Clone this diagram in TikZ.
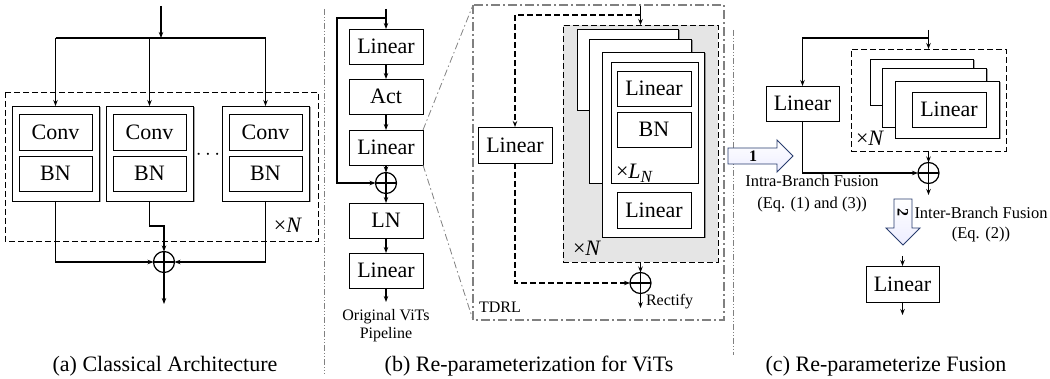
\documentclass[tikz,border=0pt]{standalone}
\usepackage{fontspec}
\setmainfont{Liberation Serif}
\usetikzlibrary{arrows.meta,shadows,calc}
\definecolor{arrblue}{RGB}{40,60,110}
\definecolor{lgray}{RGB}{229,229,229}
\definecolor{sepgray}{RGB}{128,128,128}
\newcommand\fsbig{\fontsize{22}{26}\selectfont}
\newcommand\fssmall{\fontsize{16}{18}\selectfont}
\newcommand\fsmid{\fontsize{16.5}{22}\selectfont}
\begin{document}
\begin{tikzpicture}[x=1pt,y=-1pt,
  every node/.style={inner sep=0pt,outer sep=0pt},
  arr/.style={-{Stealth[length=6pt,width=4.5pt]},line width=1.5pt},
  ln/.style={line width=1.5pt},
  darr/.style={arr,line width=1.3pt,dash pattern=on 6pt off 3pt},
  blk/.style={draw,line width=0.8pt,fill=white,font=\fsbig},
  shbox/.style={draw,line width=0.8pt,fill=white,drop shadow={shadow xshift=1.5pt,shadow yshift=-1.5pt,opacity=0.35,fill=black}},
  dbox/.style={draw,line width=0.9pt,dash pattern=on 6pt off 3pt},
  sz/.style 2 args={minimum width=#1,minimum height=#2},
  sumnode/.style={circle,draw,line width=1.2pt,minimum size=21pt,path picture={\draw[line width=1.2pt] (path picture bounding box.north)--(path picture bounding box.south) (path picture bounding box.west)--(path picture bounding box.east);}},
  sep/.style={draw=sepgray,line width=1pt,dash pattern=on 6pt off 2pt on 1pt off 2pt on 1pt off 2pt},
  zoomln/.style={draw=sepgray,line width=0.8pt,dash pattern=on 7pt off 3pt on 1.5pt off 3pt},
  tdrl/.style={draw=sepgray,line width=1.4pt,dash pattern=on 9pt off 3pt on 2pt off 3pt},
  captxt/.style={font=\fsbig,anchor=base},
  small/.style={font=\fssmall},
  fusearr/.style={draw=arrblue,line width=0.9pt,top color=white,bottom color=blue!7},
]
\useasboundingbox (0,0) rectangle (1050,379);

% ---------------- (a) ----------------
\draw[dbox] (5,92) rectangle (318,241);
\foreach \n/\x in {1/55.5,2/149.5,3/265.5}{
  \node[shbox,sz={87pt}{95pt}] (aout\n) at (\x,153.5) {};
  \node[blk,sz={73pt}{36pt}] (aconv\n) at (\x,132) {Conv};
  \node[blk,sz={73pt}{35pt}] (abn\n) at (\x,173.5) {BN};
}
\coordinate (ain) at (161,6);
\coordinate (asplit) at (161,38);
\draw[arr] (ain) -- (asplit);
\draw[ln] (aout1.north |- asplit) -- (aout3.north |- asplit);
\foreach \n in {1,2,3}{\draw[arr] (aout\n.north |- asplit) -- (aout\n.north);}
\node[font=\fsbig\bfseries] (adots) at (208,155) {$\cdots$};
\node[sumnode] (asum) at (164,262) {};
\draw[arr] (aout1.south) |- (asum.west);
\draw[arr] (aout2.south) -- ++(0,25) -| (asum.north);
\draw[arr] (aout3.south) |- (asum.east);
\coordinate (aend) at (164,304);
\draw[arr] (asum.south) -- (aend);
\node[font=\fsbig] (aN) at (288,225) {×\textit{N}};

% separators
\coordinate (s1t) at (324,9); \coordinate (s1b) at (324,374);
\draw[sep] (s1t) -- (s1b);
\coordinate (s2t) at (733,30); \coordinate (s2b) at (733,355);
\draw[sep] (s2t) -- (s2b);

% ---------------- (b) ----------------
\node[blk,sz={74pt}{35pt}] (blin1) at (386,46.5) {Linear};
\node[blk,sz={74pt}{35pt}] (bact) at (386,96.5) {Act};
\node[blk,sz={74pt}{35pt}] (blin2) at (386,147.5) {Linear};
\node[sumnode] (bsum) at (386,183) {};
\node[blk,sz={74pt}{35pt}] (bln) at (386,220.5) {LN};
\node[blk,sz={74pt}{35pt}] (blin3) at (386,270.5) {Linear};
\coordinate (bin) at (386,9);
\coordinate (bloop) at (337,18);
\draw[arr] (bin) -- (blin1.north);
\draw[arr] (bin |- bloop) -- (bloop) |- (bsum.west);
\draw[arr] (blin1.south) -- (bact.north);
\draw[arr] (bact.south) -- (blin2.north);
\draw[arr] (blin2.south) -- (bsum.north);
\draw[arr] (bsum.south) -- (bln.north);
\draw[arr] (bln.south) -- (blin3.north);
\coordinate (bend) at (386,302);
\draw[arr] (blin3.south) -- (bend);
\node[small,align=center] (borig) at (386,326) {Original ViTs\\Pipeline};

% TDRL
\coordinate (tnw) at (473,5); \coordinate (tse) at (724,320); \coordinate (tsw) at (473,320);
\draw[tdrl] (tnw) rectangle (tse);
\draw[zoomln] (blin2.north east) -- (tnw);
\draw[zoomln] (blin2.south east) -- (tsw);
\node[small,anchor=west] (tlabel) at (479,307) {TDRL};

\node[dbox,fill=lgray,sz={155pt}{237pt}] (tgrp) at (640.5,143.5) {};
\node[shbox,sz={101pt}{81pt}] (tstA) at (627.5,69.5) {};
\node[shbox,sz={102pt}{144pt}] (tstB) at (640,111) {};
\node[shbox,sz={102pt}{185pt}] (tstC) at (653,144.5) {};
\node[draw,line width=0.8pt,sz={87pt}{121pt}] (tinner) at (654.5,122.5) {};
\node[blk,sz={74pt}{35pt}] (tlinA) at (654,88.5) {Linear};
\node[blk,sz={74pt}{35pt}] (tbn) at (654,129.5) {BN};
\node[font=\fsbig,anchor=base west] (tLN) at (616,179) {×\textit{L}\raisebox{-4pt}{\fontsize{17}{17}\selectfont\textit{N}}};
\node[blk,sz={74pt}{36pt}] (tlinB) at (654,210) {Linear};
\node[font=\fsbig,anchor=base west] (tN) at (573,256) {×\textit{N}};

\node[blk,sz={74pt}{36pt}] (tlin) at (515,145) {Linear};
\node[sumnode] (tsum) at (640.5,283) {};
\coordinate (tin) at (640.5,6);
\coordinate (tsplit) at (640.5,15);
\draw[arr] (tin) -- (tgrp.north);
\draw[darr] (tsplit) -| (tlin.north);
\draw[darr] (tlin.south) |- (tsum.west);
\draw[arr] (tgrp.south) -- (tsum.north);
\coordinate (tend) at (640.5,308);
\draw[arr] (tsum.south) -- (tend);
\node[small,anchor=west] (trect) at (646,302) {Rectify};

% fusion arrow 1
\draw[fusearr] (728,148) -- (777,148) -- (777,140) -- (793,156) -- (777,172) -- (777,164) -- (728,164) -- cycle;
\node[font=\bfseries\fssmall] (f1) at (753,156) {1};
\node[font=\fsmid,align=center] (f1txt) at (812,194) {Intra-Branch Fusion\\(Eq. (1) and (3))};

% ---------------- (c) ----------------
\coordinate (cin) at (928.5,30);
\coordinate (csplit) at (928.5,38);
\node[dbox,sz={155pt}{102pt}] (cgrp) at (928.5,100) {};
\draw[arr] (cin) -- (cgrp.north);
\node[blk,sz={73pt}{35pt}] (clin) at (802.5,103.5) {Linear};
\draw[arr,line width=1.2pt] (csplit) -| (clin.north);
\node[shbox,sz={103pt}{46pt}] (cstA) at (921.5,82) {};
\node[shbox,sz={104pt}{59pt}] (cstB) at (934,97.5) {};
\node[shbox,sz={104pt}{57pt}] (cstC) at (947,109.5) {};
\node[blk,sz={74pt}{35pt}] (clinA) at (949,109.5) {Linear};
\node[font=\fsbig,anchor=base west] (cN) at (856,146) {×\textit{N}};
\node[sumnode] (csum) at (928.5,173) {};
\draw[arr] (cgrp.south) -- (csum.north);
\draw[arr,line width=1.2pt] (clin.south) |- (csum.west);
\coordinate (cmid) at (928.5,195);
\draw[arr] (csum.south) -- (cmid);

% fusion arrow 2
\draw[fusearr] (894,199) -- (912,199) -- (912,228) -- (920,228) -- (903,245) -- (886,228) -- (894,228) -- cycle;
\node[font=\bfseries\fssmall,rotate=-90] (f2) at (903,213) {2};
\node[font=\fontsize{16.5}{20}\selectfont,align=center] (f2txt) at (981,225) {Inter-Branch Fusion\\(Eq. (2))};

\node[blk,sz={73pt}{36pt}] (clin2) at (902.5,284) {Linear};
\coordinate (cpre) at (902.5,256);
\draw[arr] (cpre) -- (clin2.north);
\coordinate (cend) at (902.5,315);
\draw[arr] (clin2.south) -- (cend);

% captions
\node[captxt] (capa) at (165,372) {(a) Classical Architecture};
\node[captxt] (capb) at (529,372) {(b) Re-parameterization for ViTs};
\node[captxt] (capc) at (886,372) {(c) Re-parameterize Fusion};
\end{tikzpicture}
\end{document}
